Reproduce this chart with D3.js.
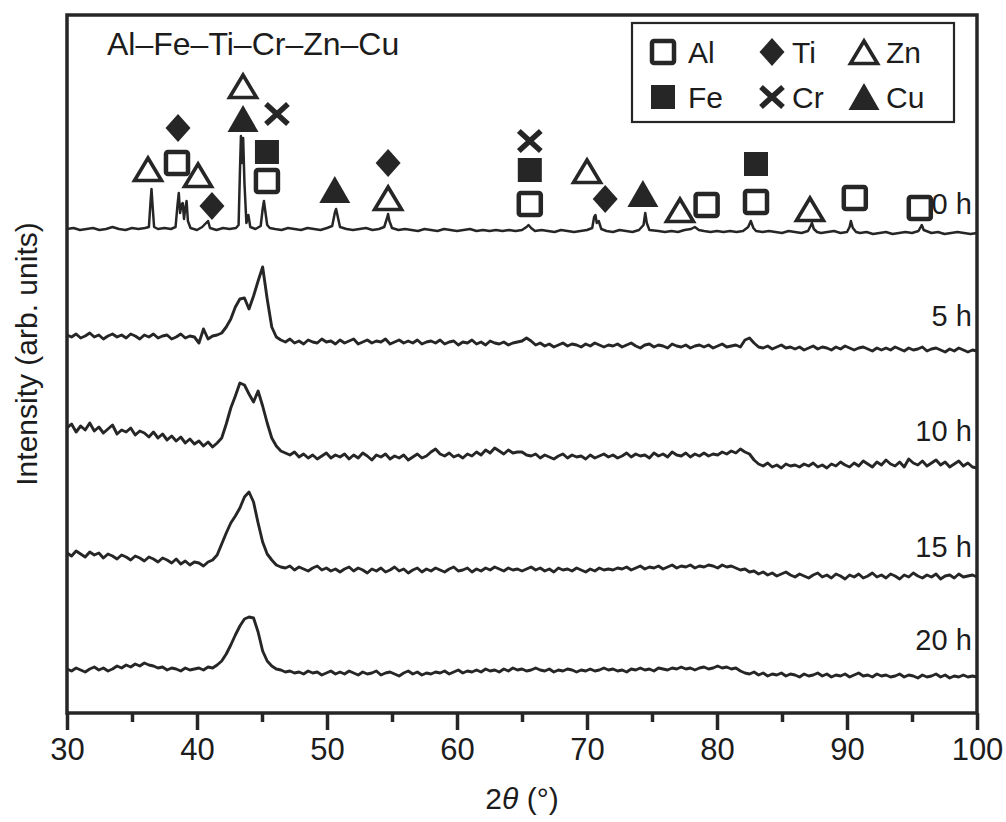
<!DOCTYPE html>
<html>
<head>
<meta charset="utf-8">
<script src="https://cdn.jsdelivr.net/npm/d3@7"></script>
<style>
  html, body { margin: 0; padding: 0; background: #fff; }
  svg { display: block; }
  text { font-family: "Liberation Sans", Arial, Helvetica, sans-serif; fill: #1c1c1c; }
</style>
</head>
<body>
<svg id="chart" width="1006" height="822"></svg>
<script>
// ---------------------------------------------------------------
// XRD patterns of Al–Fe–Ti–Cr–Zn–Cu powder after milling
// ---------------------------------------------------------------

// milled samples are sampled on a regular 2θ grid
const scanStart = 30;
const scanStep = 0.35;

const millingTimes = ["0 h", "5 h", "10 h", "15 h", "20 h"];
// vertical stacking offset of each pattern (arb. units)
const stackOffsets = [480, 362, 245, 135, 35];

// 0 h (as-mixed powder): [2θ, intensity]
const pattern0h = [
  [30,4],[30.5,5],[31,3],[31.5,4],[32,5],[32.5,3],[33,4],[33.5,6],[34,4],[34.5,3],[35,5],[35.5,4],[36,5],
  [36.3,6],[36.42,30],[36.5,44],[36.58,28],[36.7,6],[37,4],[37.5,5],[38,4],[38.35,6],[38.5,28],[38.6,40],
  [38.7,20],[38.8,28],[38.9,30],[39.0,14],[39.1,25],[39.2,32],[39.3,12],[39.5,5],[40,3],[40.4,6],[40.7,10],
  [40.85,12],[41.0,5],[41.5,3],[42,5],[42.5,4],[43.0,5],[43.2,8],[43.3,60],[43.38,97],[43.47,70],[43.55,95],
  [43.65,50],[43.8,10],[43.95,18],[44.1,6],[44.5,4],[44.9,7],[45.05,24],[45.15,32],[45.25,22],[45.4,8],
  [45.6,5],[46,4],[46.5,3],[47,5],[47.5,4],[48,3],[48.5,5],[49,4],[49.5,3],[50,5],[50.4,7],[50.6,20],
  [50.7,24],[50.8,18],[51.0,6],[51.5,4],[52,3],[52.5,4],[53,5],[53.5,3],[54,4],[54.4,6],[54.62,15],[54.7,19],
  [54.8,12],[55.0,5],[55.5,3],[56,4],[56.5,3],[57,2],[57.5,4],[58,3],[58.5,2],[59,4],[59.5,3],[60,2],
  [60.5,3],[61,4],[61.5,2],[62,3],[62.5,2],[63,3],[63.5,2],[64,3],[64.5,2],[65,3],[65.35,6],[65.5,8],
  [65.7,5],[66,2],[66.5,3],[67,2],[67.5,1],[68,3],[68.5,2],[69,1],[69.5,2],[70,3],[70.4,5],[70.55,16],
  [70.65,18],[70.75,10],[70.9,12],[71.1,4],[71.5,2],[72,1],[72.5,3],[73,2],[73.5,1],[74,3],[74.35,8],
  [74.48,20],[74.6,10],[74.8,3],[75.5,2],[76,1],[76.5,2],[77,1],[77.5,3],[78,4],[78.3,6],[78.6,3],[79,2],
  [79.5,1],[80,2],[80.5,1],[81,2],[81.5,1],[82,2],[82.4,6],[82.6,12],[82.8,5],[83,2],[83.5,1],[84,2],
  [84.5,1],[85,0],[85.5,2],[86,1],[86.5,0],[87,2],[87.2,7],[87.3,10],[87.45,4],[87.7,1],[88,0],[88.5,1],
  [89,2],[89.5,0],[90,1],[90.2,6],[90.3,12],[90.45,5],[90.7,1],[91,0],[91.5,1],[92,-1],[92.5,0],[93,1],
  [93.5,-1],[94,0],[94.5,1],[95,0],[95.5,2],[95.75,8],[95.9,3],[96.5,0],[97,1],[97.5,-1],[98,0],[98.5,1],
  [99,0],[99.5,-1],[100,0]
];

// milled powders: intensity at each grid step
const pattern5h = [
  16,14,17,13,15,18,14,16,12,15,17,14,16,13,17,15,12,16,14,17,
  13,15,16,12,14,17,13,15,14,8,22,12,15,16,18,24,32,44,52,53,
  42,55,70,84,52,24,14,11,9,12,8,10,7,11,9,8,12,9,10,7,
  11,8,10,12,7,9,11,8,10,9,12,7,9,11,8,10,8,11,7,9,
  10,8,11,7,9,10,6,9,8,11,7,9,6,10,8,7,9,6,8,9,
  10,13,10,6,8,5,7,4,6,8,5,7,6,4,7,5,8,6,4,6,
  5,7,4,6,8,5,3,6,7,4,6,5,3,7,5,4,6,3,5,6,
  4,6,3,5,7,4,5,6,4,11,13,8,4,3,5,2,4,6,3,4,
  2,4,1,3,5,2,4,3,1,4,2,5,3,1,3,4,2,0,3,1,
  3,1,4,2,0,3,1,2,4,0,2,3,1,-1,2,0,3,1,-1,1,
  0
];

const pattern10h = [
  40,44,36,42,38,45,37,41,35,39,43,34,38,36,40,33,37,35,31,36,
  30,34,28,32,27,31,25,29,24,27,22,26,21,25,30,44,60,72,85,83,
  74,66,77,62,45,30,22,17,15,13,16,11,14,10,13,9,12,15,10,13,
  11,14,9,13,10,15,12,8,13,11,14,9,12,10,13,8,11,14,10,12,
  16,19,14,12,15,11,13,10,14,12,16,13,18,15,20,17,14,18,15,16,
  16,13,12,14,10,13,11,9,12,14,10,13,11,12,9,13,10,12,14,11,
  13,10,12,15,11,14,12,13,10,15,12,14,11,16,13,12,15,11,14,12,
  15,12,14,13,16,14,17,15,19,16,14,8,4,2,5,1,3,0,4,2,
  3,1,4,2,5,1,3,0,4,2,6,3,1,5,2,7,4,1,6,3,
  8,4,2,6,1,9,5,3,7,2,5,8,3,6,1,4,7,2,5,1,
  0
];

const pattern15h = [
  25,22,27,24,21,26,23,25,20,24,22,19,23,21,18,22,20,17,21,19,
  16,20,18,15,19,14,17,13,16,15,12,16,18,23,34,45,55,62,70,81,
  86,76,55,36,24,18,13,11,10,12,8,11,9,7,10,12,8,10,7,9,
  6,9,11,7,10,8,5,9,7,10,6,8,11,7,9,5,8,10,6,9,
  7,10,8,6,9,11,7,8,10,6,9,7,10,8,11,9,7,10,8,9,
  7,9,11,8,10,7,9,6,10,8,9,7,10,8,6,9,7,10,8,9,
  8,10,9,11,8,10,12,9,11,10,12,9,11,13,10,12,11,13,10,12,
  11,13,12,10,13,11,12,10,8,9,6,7,4,6,3,5,2,4,6,3,
  1,4,2,0,3,5,1,3,0,4,2,-1,3,1,4,0,2,5,1,3,
  0,4,2,-1,3,1,5,2,0,3,1,4,-1,2,3,0,4,1,2,3,
  1
];

const pattern20h = [
  9,7,10,8,6,9,11,8,10,7,9,12,10,13,11,14,12,15,13,12,
  10,11,8,10,9,7,10,8,9,10,8,11,10,13,17,24,33,43,52,59,
  61,60,46,27,17,12,9,8,6,7,5,6,4,7,5,6,3,5,7,4,
  6,4,7,5,3,6,4,5,7,3,5,6,4,2,5,7,4,6,3,5,
  4,6,5,7,4,6,8,5,7,6,8,6,9,7,8,6,9,7,10,8,
  9,7,8,10,8,7,9,6,8,7,9,8,6,8,7,9,7,8,10,8,
  9,7,8,6,9,8,10,8,9,7,10,9,8,10,9,11,9,10,8,10,
  11,9,10,12,10,11,9,10,7,5,4,6,3,5,2,4,3,5,2,4,
  3,1,4,2,3,5,2,4,1,3,2,4,1,3,5,2,3,1,4,2,
  3,1,2,4,1,3,2,0,3,1,2,4,1,3,0,2,1,3,1,2,
  1
];

// phase identification marks on the 0 h pattern: [phase, 2θ, height (arb. units)]
const peakMarks = [
  ["Zn", 36.23, 544], ["Al", 38.46, 550], ["Ti", 38.54, 585], ["Zn", 40.08, 538],
  ["Ti", 41.15, 507], ["Zn", 43.54, 627], ["Cu", 43.54, 594], ["Cr", 46.15, 599],
  ["Fe", 45.38, 561], ["Al", 45.38, 532], ["Cu", 50.6, 523], ["Ti", 54.7, 550],
  ["Zn", 54.7, 515], ["Cr", 65.6, 572], ["Fe", 65.6, 543], ["Al", 65.6, 509],
  ["Zn", 70.0, 542], ["Ti", 71.4, 514], ["Cu", 74.3, 519], ["Zn", 77.15, 503],
  ["Al", 79.2, 508], ["Fe", 83.0, 549], ["Al", 83.0, 511], ["Zn", 87.15, 504],
  ["Al", 90.6, 515], ["Al", 95.6, 505]
];

const legendRows = [["Al", "Ti", "Zn"], ["Fe", "Cr", "Cu"]];
const xTicks = [30, 40, 50, 60, 70, 80, 90, 100];
const xMinorTicks = [35, 45, 55, 65, 75, 85, 95];
const alloyLabel = "Al–Fe–Ti–Cr–Zn–Cu";

// ---------------------------------------------------------------
const svg = d3.select("#chart");
const ink = "#262626";

const plot = { left: 67, right: 977, top: 15, bottom: 713 };
const x = d3.scaleLinear().domain([30, 100]).range([plot.left, plot.right]);
const y = d3.scaleLinear().domain([0, 698]).range([plot.bottom, plot.top]);

const gridSeries = [pattern5h, pattern10h, pattern15h, pattern20h]
  .map(vals => vals.map((v, i) => [scanStart + i * scanStep, v]));
const allPatterns = [pattern0h, ...gridSeries];

// patterns
const line = d3.line().x(d => x(d[0]));
allPatterns.forEach((pts, k) => {
  const off = stackOffsets[k];
  svg.append("path")
    .datum(pts)
    .attr("fill", "none")
    .attr("stroke", ink)
    .attr("stroke-width", k === 0 ? 2.5 : 2.9)
    .attr("stroke-linejoin", "round")
    .attr("d", line.y(d => y(d[1] + off)));
});

// milling-time labels at the right end of each pattern
const labelLift = [19, 25, 27, 20, 27];
allPatterns.forEach((pts, k) => {
  const lastVal = pts[pts.length - 1][1];
  svg.append("text")
    .attr("x", x(99.6))
    .attr("y", y(lastVal + stackOffsets[k] + labelLift[k]))
    .attr("text-anchor", "end")
    .attr("font-size", 29)
    .text(millingTimes[k]);
});

// phase symbols
function drawSymbol(g, phase) {
  switch (phase) {
    case "Al":
      g.append("rect").attr("x", -11).attr("y", -11).attr("width", 22).attr("height", 22)
        .attr("rx", 2).attr("fill", "none").attr("stroke", ink).attr("stroke-width", 4.5);
      break;
    case "Fe":
      g.append("rect").attr("x", -12).attr("y", -12).attr("width", 24).attr("height", 24)
        .attr("fill", ink);
      break;
    case "Ti":
      g.append("path").attr("d", "M0,-14L12.5,0L0,14L-12.5,0Z").attr("fill", ink);
      break;
    case "Cr":
      g.append("path").attr("d", "M-11,-10L11,10M11,-10L-11,10")
        .attr("stroke", ink).attr("stroke-width", 5.5).attr("fill", "none");
      break;
    case "Zn":
      g.append("path").attr("d", "M0,-11L13.5,11.5L-13.5,11.5Z")
        .attr("fill", "none").attr("stroke", ink).attr("stroke-width", 3.6)
        .attr("stroke-linejoin", "miter");
      break;
    case "Cu":
      g.append("path").attr("d", "M0,-14L15.5,13L-15.5,13Z").attr("fill", ink);
      break;
  }
}

peakMarks.forEach(([phase, angle, h]) => {
  const g = svg.append("g").attr("transform", `translate(${x(angle)},${y(h)})`);
  drawSymbol(g, phase);
});

// frame
svg.append("rect")
  .attr("x", plot.left).attr("y", plot.top)
  .attr("width", plot.right - plot.left).attr("height", plot.bottom - plot.top)
  .attr("fill", "none").attr("stroke", ink).attr("stroke-width", 3.5);

// x axis
const xAxis = svg.append("g")
  .attr("transform", `translate(0,${plot.bottom})`)
  .call(d3.axisBottom(x).tickValues(xTicks).tickSize(17).tickSizeOuter(0).tickPadding(8));
xAxis.select(".domain").remove();
xAxis.selectAll(".tick line").attr("stroke", ink).attr("stroke-width", 3.5);
xAxis.selectAll(".tick text").attr("font-size", 31).attr("fill", "#1c1c1c")
  .attr("font-family", "'Liberation Sans', Arial, sans-serif");

const xMinor = svg.append("g")
  .attr("transform", `translate(0,${plot.bottom})`)
  .call(d3.axisBottom(x).tickValues(xMinorTicks).tickSize(9).tickSizeOuter(0).tickFormat(""));
xMinor.select(".domain").remove();
xMinor.selectAll(".tick line").attr("stroke", ink).attr("stroke-width", 3.5);

// axis titles
const xTitle = svg.append("text")
  .attr("x", (plot.left + plot.right) / 2)
  .attr("y", 809)
  .attr("text-anchor", "middle")
  .attr("font-size", 30);
xTitle.append("tspan").text("2");
xTitle.append("tspan").attr("font-style", "italic").text("θ");
xTitle.append("tspan").text(" (°)");

svg.append("text")
  .attr("transform", "translate(37,354) rotate(-90)")
  .attr("text-anchor", "middle")
  .attr("font-size", 30)
  .text("Intensity (arb. units)");

// alloy label
svg.append("text")
  .attr("x", 107).attr("y", 55)
  .attr("font-size", 32)
  .text(alloyLabel);

// legend
const legend = svg.append("g");
legend.append("rect")
  .attr("x", 632).attr("y", 23).attr("width", 322).attr("height", 99)
  .attr("fill", "#fff").attr("stroke", ink).attr("stroke-width", 2.2);
const colSymbolX = [663, 772, 864];
const colTextX = [688, 792, 886];
const rowY = [52, 97];
legendRows.forEach((row, r) => {
  row.forEach((phase, c) => {
    const g = legend.append("g").attr("transform", `translate(${colSymbolX[c]},${rowY[r]})`);
    drawSymbol(g, phase);
    legend.append("text")
      .attr("x", colTextX[c]).attr("y", rowY[r] + 11)
      .attr("font-size", 30)
      .text(phase);
  });
});
</script>
</body>
</html>
